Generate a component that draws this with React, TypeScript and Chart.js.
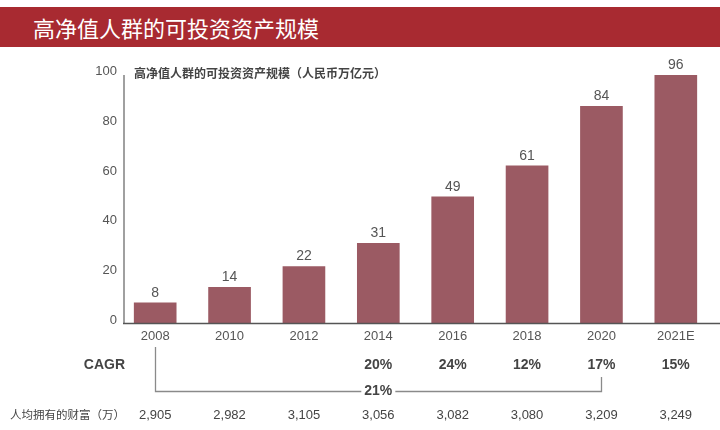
import React, { useEffect, useRef } from "react";
import { Chart, registerables } from "chart.js";

Chart.register(...registerables);

const title = "高净值人群的可投资资产规模";
const subtitle = "高净值人群的可投资资产规模（人民币万亿元）";
const years = ["2008", "2010", "2012", "2014", "2016", "2018", "2020", "2021E"];
const assets = [8, 14, 22, 31, 49, 61, 84, 96];
const yTicks = [0, 20, 40, 60, 80, 100];
const cagrLabel = "CAGR";
const cagrValues = ["", "", "", "20%", "24%", "12%", "17%", "15%"];
const overallCagr = "21%";
const overallFrom = 0;
const overallTo = 6;
const wealthLabel = "人均拥有的财富（万）";
const wealth = ["2,905", "2,982", "3,105", "3,056", "3,082", "3,080", "3,209", "3,249"];

const LATIN = '"Liberation Sans", Arial, sans-serif';
const CJK = '"Noto Sans CJK SC", "Liberation Sans", sans-serif';

export default function App() {
  const ref = useRef<HTMLCanvasElement | null>(null);

  useEffect(() => {
    document.body.style.margin = "0";
    const canvas = ref.current;
    if (!canvas) return;

    const overlay = {
      id: "overlay",
      afterDraw(chart: any) {
        const ctx = chart.ctx;
        const area = chart.chartArea;
        const xs = chart.scales.x;
        const ys = chart.scales.yBars;
        const axisX = area.left + 6;
        ctx.save();
        // y axis line
        ctx.strokeStyle = "#a0a0a0";
        ctx.lineWidth = 2;
        ctx.beginPath();
        ctx.moveTo(axisX, area.top + 10);
        ctx.lineTo(axisX, area.bottom);
        ctx.stroke();
        // x axis line
        ctx.strokeStyle = "#555";
        ctx.lineWidth = 1.5;
        ctx.beginPath();
        ctx.moveTo(axisX - 1, area.bottom);
        ctx.lineTo(chart.width, area.bottom);
        ctx.stroke();

        // value labels
        ctx.fillStyle = "#555";
        ctx.font = `14px ${LATIN}`;
        ctx.textAlign = "center";
        ctx.textBaseline = "middle";
        assets.forEach((v, i) => {
          ctx.fillText(String(v), xs.getPixelForValue(i), ys.getPixelForValue(v) - 10);
        });

        // subtitle
        ctx.fillStyle = "#444";
        ctx.font = `bold 12px ${CJK}`;
        ctx.textAlign = "left";
        ctx.fillText(subtitle, 134, 73);

        // CAGR row
        const cagrY = 365;
        ctx.fillStyle = "#444";
        ctx.font = `bold 14px ${LATIN}`;
        ctx.textAlign = "right";
        ctx.fillText(cagrLabel, 125, cagrY);
        ctx.textAlign = "center";
        cagrValues.forEach((v, i) => {
          if (v) ctx.fillText(v, xs.getPixelForValue(i), cagrY);
        });

        // bracket
        const bx1 = Math.round(xs.getPixelForValue(overallFrom));
        const bx2 = Math.round(xs.getPixelForValue(overallTo));
        const by = 391.5;
        ctx.strokeStyle = "#8a8a8a";
        ctx.lineWidth = 1.3;
        ctx.beginPath();
        ctx.moveTo(bx1 + 0.5, 347);
        ctx.lineTo(bx1 + 0.5, by);
        ctx.lineTo(bx2 + 0.5, by);
        ctx.lineTo(bx2 + 0.5, 377);
        ctx.stroke();
        const midX = xs.getPixelForValue(3);
        ctx.font = `bold 14px ${LATIN}`;
        const tw = ctx.measureText(overallCagr).width;
        ctx.fillStyle = "#fff";
        ctx.fillRect(midX - tw / 2 - 3, by - 8, tw + 6, 16);
        ctx.fillStyle = "#444";
        ctx.fillText(overallCagr, midX, by);

        // wealth row
        const wy = 415;
        ctx.font = `11.5px ${CJK}`;
        ctx.textAlign = "left";
        ctx.fillStyle = "#444";
        ctx.fillText(wealthLabel, 10, wy);
        ctx.font = `13px ${LATIN}`;
        ctx.textAlign = "center";
        wealth.forEach((v, i) => {
          ctx.fillText(v, xs.getPixelForValue(i), wy);
        });
        ctx.restore();
      },
    };

    const chart = new Chart(canvas, {
      type: "bar",
      data: {
        labels: years,
        datasets: [
          {
            data: assets,
            backgroundColor: "#9b5a63",
            barThickness: 42,
            yAxisID: "yBars",
          },
        ],
      },
      options: {
        responsive: false,
        animation: false,
        layout: { padding: { top: 65, right: 7, left: 0, bottom: 0 } },
        plugins: {
          legend: { display: false },
          tooltip: { enabled: false },
        },
        scales: {
          x: {
            grid: { display: false, drawTicks: false },
            border: { display: false },
            ticks: { color: "#555", font: { size: 13, family: LATIN }, padding: 5 },
            afterFit: (s: any) => {
              s.height = 430 - 323.5;
            },
          },
          y: {
            position: "left",
            min: -1.25,
            max: 102.7,
            grid: { display: false, drawTicks: false },
            border: { display: false },
            ticks: { color: "#555", font: { size: 13, family: LATIN }, padding: 1 },
            afterBuildTicks: (s: any) => {
              s.ticks = yTicks.map((v) => ({ value: v }));
            },
            afterFit: (s: any) => {
              s.width = 118;
            },
          },
          yBars: {
            display: false,
            min: 0,
            max: 100,
          },
        },
      },
      plugins: [overlay],
    });
    return () => chart.destroy();
  }, []);

  return (
    <div style={{ position: "relative", width: 720, height: 430, background: "#fff", overflow: "hidden" }}>
      <canvas ref={ref} width={720} height={430} style={{ position: "absolute", left: 0, top: 0 }} />
      <div
        style={{
          position: "absolute",
          left: 0,
          top: 7,
          width: 720,
          height: 40,
          background: "#a82a31",
          color: "#fff",
          fontFamily: CJK,
          fontSize: 22,
          lineHeight: "40px",
          paddingLeft: 33,
          boxSizing: "border-box",
        }}
      >
        {title}
      </div>
    </div>
  );
}
